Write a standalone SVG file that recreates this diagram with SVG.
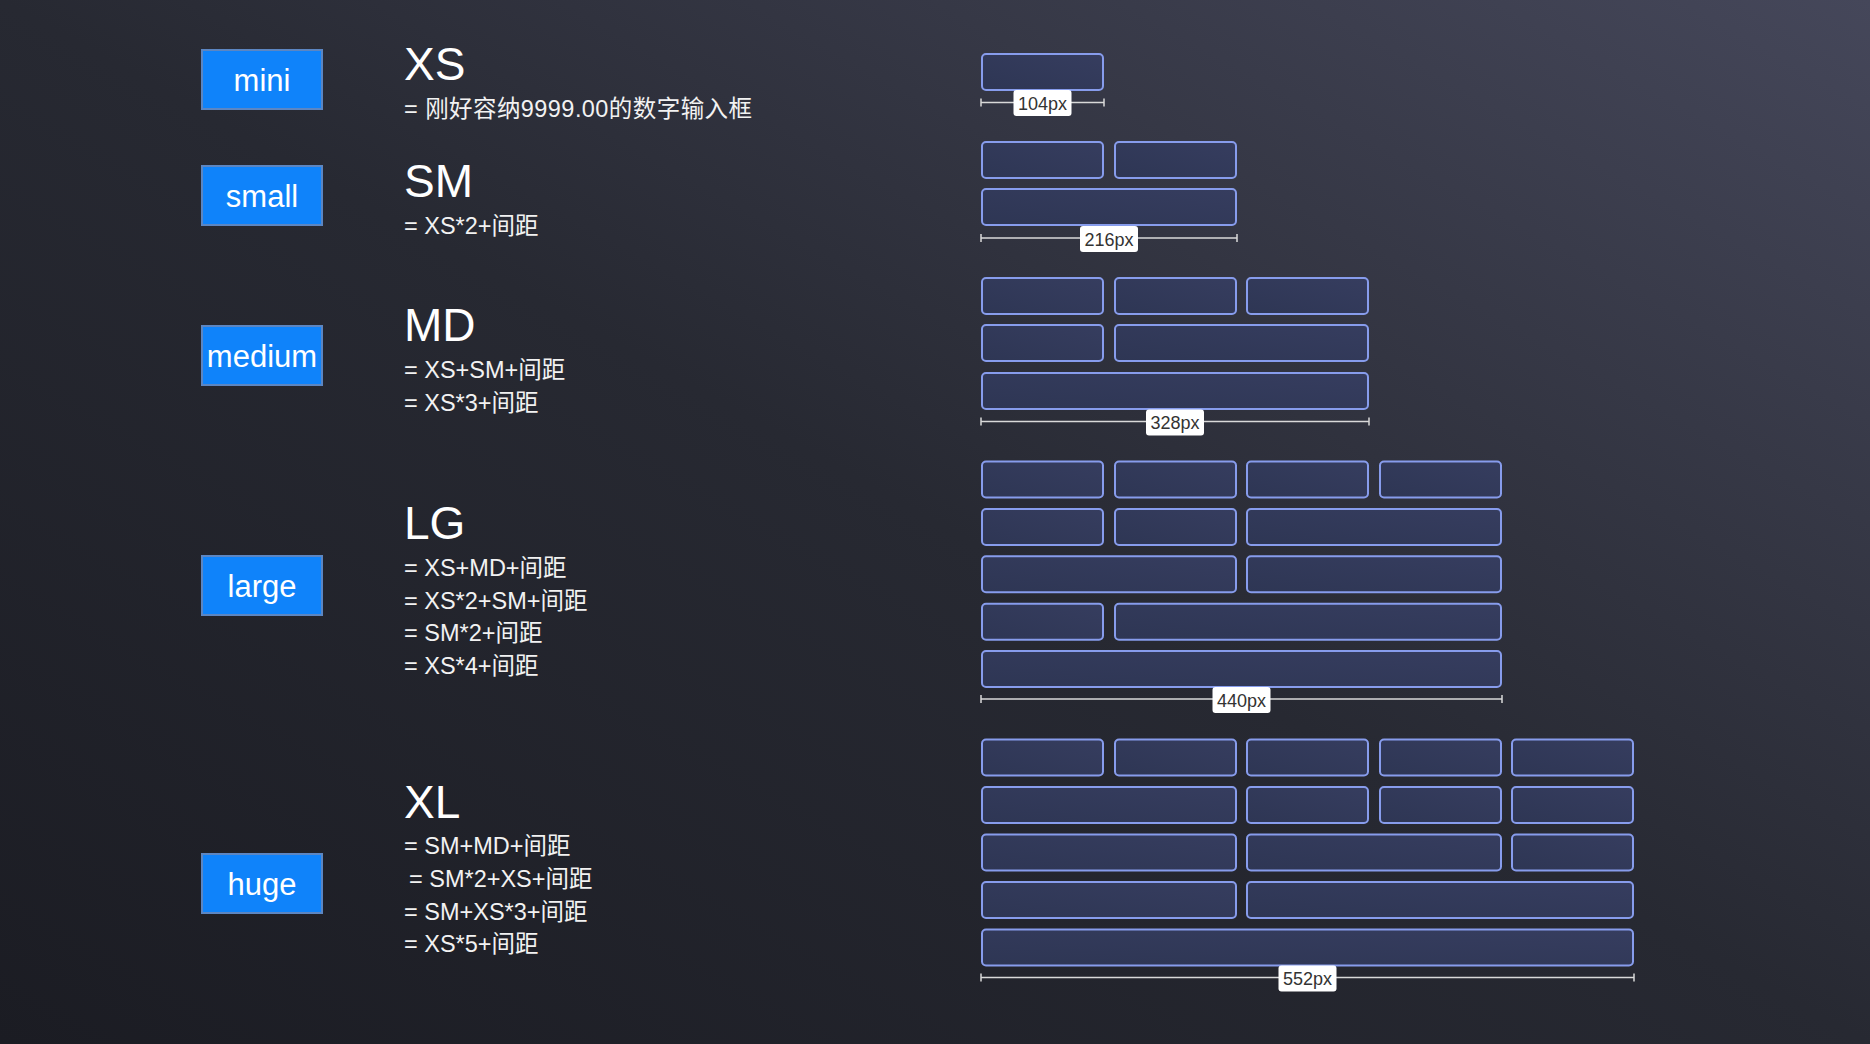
<svg xmlns="http://www.w3.org/2000/svg" width="1870" height="1044" viewBox="0 0 1870 1044">
  <defs>
    <linearGradient id="bg" x1="0" y1="1" x2="1" y2="0">
      <stop offset="0" stop-color="#1b1c23"/>
      <stop offset="0.5" stop-color="#272932"/>
      <stop offset="1" stop-color="#45475a"/>
    </linearGradient>
    <linearGradient id="cell" x1="0" y1="1" x2="1" y2="0">
      <stop offset="0" stop-color="#2e3654"/>
      <stop offset="1" stop-color="#363d5f"/>
    </linearGradient>
  </defs>
  <style>
    .tag{fill:#0f83fa;stroke:#5c86c2;stroke-width:2}
    .tagt{font-family:"Liberation Sans",Arial,sans-serif;font-size:31px;fill:#ffffff;text-anchor:middle}
    .title{font-family:"Liberation Sans",Arial,sans-serif;font-size:46px;fill:#ffffff}
    .sub{font-family:"Liberation Sans","Noto Sans CJK SC",sans-serif;font-size:23.5px;fill:#f2f2f2}
    .cell{fill:url(#cell);stroke:#879cec;stroke-width:2}
    .dim{stroke:#d9d9d9;stroke-width:1.5;fill:none}
    .lbl{fill:#ffffff}
    .lblt{font-family:"Liberation Sans",Arial,sans-serif;font-size:18px;fill:#333333;text-anchor:middle}
  </style>
  <rect width="1870" height="1044" fill="url(#bg)"/>

  <!-- size tags -->
  <g id="tag-mini"><rect class="tag" x="202" y="50" width="120" height="59"/><text class="tagt" x="262" y="91">mini</text></g>
  <g id="tag-small"><rect class="tag" x="202" y="166" width="120" height="59"/><text class="tagt" x="262" y="207">small</text></g>
  <g id="tag-medium"><rect class="tag" x="202" y="326" width="120" height="59"/><text class="tagt" x="262" y="367">medium</text></g>
  <g id="tag-large"><rect class="tag" x="202" y="556" width="120" height="59"/><text class="tagt" x="262" y="597">large</text></g>
  <g id="tag-huge"><rect class="tag" x="202" y="854" width="120" height="59"/><text class="tagt" x="262" y="895">huge</text></g>

  <!-- descriptions -->
  <g id="desc-xs">
    <text class="title" x="404" y="80">XS</text>
    <text class="sub" x="404" y="117" textLength="348" lengthAdjust="spacing">= 刚好容纳9999.00的数字输入框</text>
  </g>
  <g id="desc-sm">
    <text class="title" x="404" y="197">SM</text>
    <text class="sub" x="404" y="234">= XS*2+间距</text>
  </g>
  <g id="desc-md">
    <text class="title" x="404" y="341">MD</text>
    <text class="sub" x="404" y="378">= XS+SM+间距</text>
    <text class="sub" x="404" y="410.5">= XS*3+间距</text>
  </g>
  <g id="desc-lg">
    <text class="title" x="404" y="538.5">LG</text>
    <text class="sub" x="404" y="576">= XS+MD+间距</text>
    <text class="sub" x="404" y="608.5">= XS*2+SM+间距</text>
    <text class="sub" x="404" y="641">= SM*2+间距</text>
    <text class="sub" x="404" y="673.5">= XS*4+间距</text>
  </g>
  <g id="desc-xl">
    <text class="title" x="404" y="817.5">XL</text>
    <text class="sub" x="404" y="854">= SM+MD+间距</text>
    <text class="sub" x="409" y="887">= SM*2+XS+间距</text>
    <text class="sub" x="404" y="919.5">= SM+XS*3+间距</text>
    <text class="sub" x="404" y="952">= XS*5+间距</text>
  </g>

  <!-- XS grid -->
  <g id="grid-xs">
    <rect class="cell" x="982" y="54" width="121" height="36" rx="4"/>
  </g>
  <!-- SM grid -->
  <g id="grid-sm">
    <rect class="cell" x="982" y="142" width="121" height="36" rx="4"/>
    <rect class="cell" x="1115" y="142" width="121" height="36" rx="4"/>
    <rect class="cell" x="982" y="189" width="254" height="36" rx="4"/>
  </g>
  <!-- MD grid -->
  <g id="grid-md">
    <rect class="cell" x="982" y="278" width="121" height="36" rx="4"/>
    <rect class="cell" x="1115" y="278" width="121" height="36" rx="4"/>
    <rect class="cell" x="1247" y="278" width="121" height="36" rx="4"/>
    <rect class="cell" x="982" y="325" width="121" height="36" rx="4"/>
    <rect class="cell" x="1115" y="325" width="253" height="36" rx="4"/>
    <rect class="cell" x="982" y="373" width="386" height="36" rx="4"/>
  </g>
  <!-- LG grid -->
  <g id="grid-lg">
    <rect class="cell" x="982" y="461.5" width="121" height="36" rx="4"/>
    <rect class="cell" x="1115" y="461.5" width="121" height="36" rx="4"/>
    <rect class="cell" x="1247" y="461.5" width="121" height="36" rx="4"/>
    <rect class="cell" x="1380" y="461.5" width="121" height="36" rx="4"/>
    <rect class="cell" x="982" y="509" width="121" height="36" rx="4"/>
    <rect class="cell" x="1115" y="509" width="121" height="36" rx="4"/>
    <rect class="cell" x="1247" y="509" width="254" height="36" rx="4"/>
    <rect class="cell" x="982" y="556.3" width="254" height="36" rx="4"/>
    <rect class="cell" x="1247" y="556.3" width="254" height="36" rx="4"/>
    <rect class="cell" x="982" y="603.7" width="121" height="36" rx="4"/>
    <rect class="cell" x="1115" y="603.7" width="386" height="36" rx="4"/>
    <rect class="cell" x="982" y="651" width="519" height="36" rx="4"/>
  </g>
  <!-- XL grid -->
  <g id="grid-xl">
    <rect class="cell" x="982" y="739.5" width="121" height="36" rx="4"/>
    <rect class="cell" x="1115" y="739.5" width="121" height="36" rx="4"/>
    <rect class="cell" x="1247" y="739.5" width="121" height="36" rx="4"/>
    <rect class="cell" x="1380" y="739.5" width="121" height="36" rx="4"/>
    <rect class="cell" x="1512" y="739.5" width="121" height="36" rx="4"/>
    <rect class="cell" x="982" y="787" width="254" height="36" rx="4"/>
    <rect class="cell" x="1247" y="787" width="121" height="36" rx="4"/>
    <rect class="cell" x="1380" y="787" width="121" height="36" rx="4"/>
    <rect class="cell" x="1512" y="787" width="121" height="36" rx="4"/>
    <rect class="cell" x="982" y="834.5" width="254" height="36" rx="4"/>
    <rect class="cell" x="1247" y="834.5" width="254" height="36" rx="4"/>
    <rect class="cell" x="1512" y="834.5" width="121" height="36" rx="4"/>
    <rect class="cell" x="982" y="882" width="254" height="36" rx="4"/>
    <rect class="cell" x="1247" y="882" width="386" height="36" rx="4"/>
    <rect class="cell" x="982" y="929.5" width="651" height="36" rx="4"/>
  </g>

  <!-- dimension lines -->
  <g id="dimensions">
    <path class="dim" d="M981 102.5H1104M981 98.5V106.5M1104 98.5V106.5"/>
    <rect class="lbl" x="1013.5" y="90" width="58" height="26" rx="3"/>
    <text class="lblt" x="1042.5" y="109.5">104px</text>

    <path class="dim" d="M981 238H1237M981 234V242M1237 234V242"/>
    <rect class="lbl" x="1080" y="226" width="58" height="26" rx="3"/>
    <text class="lblt" x="1109" y="245.5">216px</text>

    <path class="dim" d="M981 421.5H1369M981 417.5V425.5M1369 417.5V425.5"/>
    <rect class="lbl" x="1146" y="409.5" width="58" height="26" rx="3"/>
    <text class="lblt" x="1175" y="429">328px</text>

    <path class="dim" d="M981 699H1502M981 695V703M1502 695V703"/>
    <rect class="lbl" x="1212.5" y="687" width="58" height="26" rx="3"/>
    <text class="lblt" x="1241.5" y="706.5">440px</text>

    <path class="dim" d="M981 977.5H1634M981 973.5V981.5M1634 973.5V981.5"/>
    <rect class="lbl" x="1278.5" y="965.5" width="58" height="26" rx="3"/>
    <text class="lblt" x="1307.5" y="985">552px</text>
  </g>
</svg>
